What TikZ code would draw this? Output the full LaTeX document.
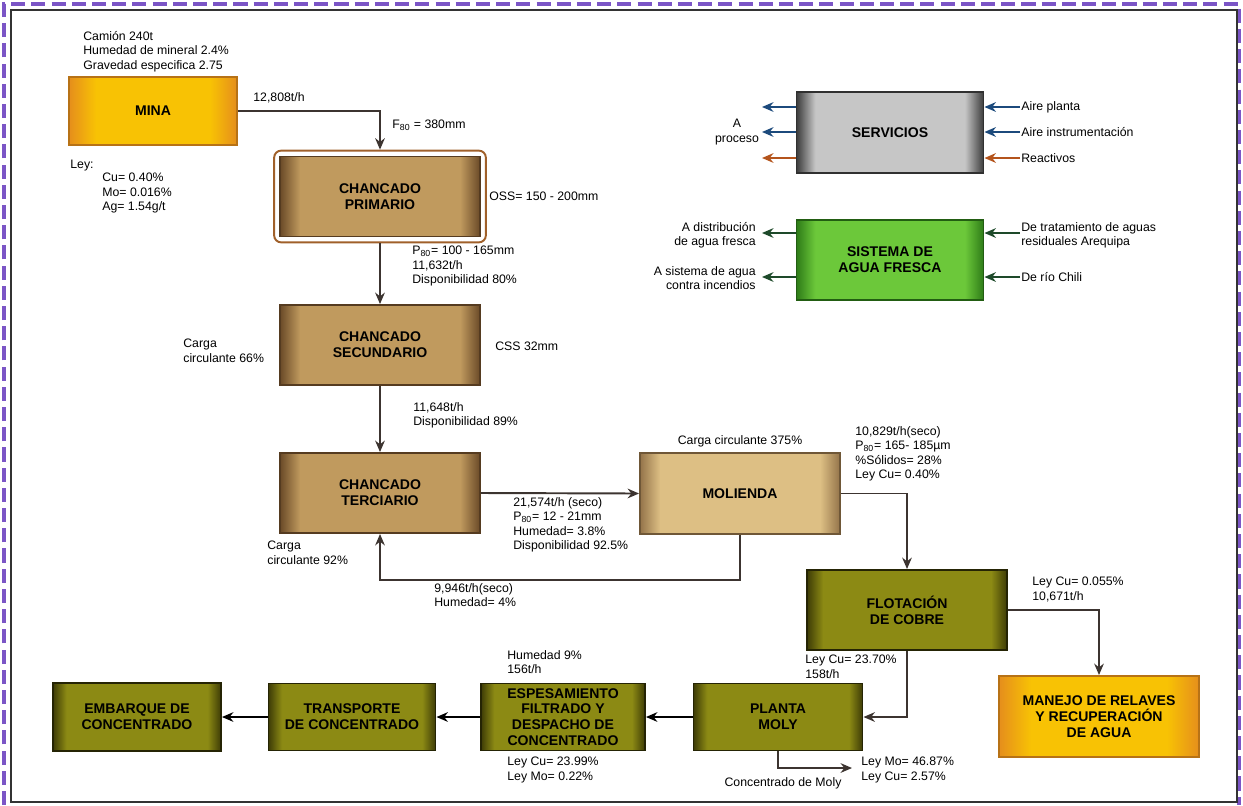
\documentclass[tikz,border=0pt]{standalone}
\usepackage{fontspec}
\setmainfont{Liberation Sans}
\usetikzlibrary{arrows.meta,fit}
\definecolor{mineO}{HTML}{E58E1C}
\definecolor{mineY}{HTML}{F8C204}
\definecolor{crushD}{HTML}{6A4A28}
\definecolor{crushL}{HTML}{C09A5E}
\definecolor{millD}{HTML}{94744A}
\definecolor{millL}{HTML}{DDBF84}
\definecolor{oliveD}{HTML}{3E3C06}
\definecolor{oliveL}{HTML}{8C8A14}
\definecolor{greyD}{HTML}{3C3C3C}
\definecolor{greyL}{HTML}{C6C6C6}
\definecolor{greenD}{HTML}{2E7C18}
\definecolor{greenL}{HTML}{6CC83A}
\definecolor{flowC}{HTML}{3C3430}
\definecolor{airC}{HTML}{1C4A7C}
\definecolor{reagC}{HTML}{B4541C}
\definecolor{waterC}{HTML}{1E4A2A}
\definecolor{frameC}{HTML}{A0602A}
\definecolor{borderC}{HTML}{7B55C6}
\pgfdeclarehorizontalshading{mineshade}{100bp}{color(0bp)=(mineO); color(25bp)=(mineO); color(33bp)=(mineY); color(67bp)=(mineY); color(75bp)=(mineO); color(100bp)=(mineO)}
\pgfdeclarehorizontalshading{crushshade}{100bp}{color(0bp)=(crushD); color(25bp)=(crushD); color(30bp)=(crushL); color(70bp)=(crushL); color(75bp)=(crushD); color(100bp)=(crushD)}
\pgfdeclarehorizontalshading{millshade}{100bp}{color(0bp)=(millD); color(25bp)=(millD); color(30bp)=(millL); color(70bp)=(millL); color(75bp)=(millD); color(100bp)=(millD)}
\pgfdeclarehorizontalshading{oliveshade}{100bp}{color(0bp)=(oliveD); color(25bp)=(oliveD); color(29bp)=(oliveL); color(71bp)=(oliveL); color(75bp)=(oliveD); color(100bp)=(oliveD)}
\pgfdeclarehorizontalshading{greyshade}{100bp}{color(0bp)=(greyD); color(25bp)=(greyD); color(30bp)=(greyL); color(70bp)=(greyL); color(75bp)=(greyD); color(100bp)=(greyD)}
\pgfdeclarehorizontalshading{greenshade}{100bp}{color(0bp)=(greenD); color(25bp)=(greenD); color(30bp)=(greenL); color(70bp)=(greenL); color(75bp)=(greenD); color(100bp)=(greenD)}
\begin{document}
\begin{tikzpicture}[
  x=0.02cm, y=-0.02cm,
  every node/.style={font=\fontsize{7}{8.2}\selectfont},
  unit/.style={rectangle, line width=1.1pt, minimum width=4cm, minimum height=1.6cm,
    align=center, inner sep=1pt, font=\fontsize{8}{9}\selectfont\bfseries},
  mine/.style={unit, draw=mineO!80!black, shading=mineshade},
  crush/.style={unit, draw=crushD!80!black, shading=crushshade},
  mill/.style={unit, draw=millD!75!black, shading=millshade},
  olive/.style={unit, draw=oliveD!60!black, shading=oliveshade},
  util/.style={unit, draw=greyD!80!black, shading=greyshade},
  water/.style={unit, draw=greenD!75!black, shading=greenshade},
  pframe/.style={draw=frameC, line width=1.1pt, rounded corners=4pt, inner sep=2.8pt},
  note/.style={anchor=north west, inner sep=0pt, align=left},
  noteR/.style={anchor=north east, inner sep=0pt, align=right},
  flow/.style={draw=flowC, line width=1.1pt, -{Stealth[length=6.5pt,width=5.5pt]}},
  chain/.style={draw=black, line width=1.1pt, -{Stealth[length=6.5pt,width=5.5pt]}},
  air/.style={draw=airC, line width=1.1pt, -{Stealth[length=6.5pt,width=5.5pt]}},
  reag/.style={draw=reagC, line width=1.1pt, -{Stealth[length=6.5pt,width=5.5pt]}},
  fresh/.style={draw=waterC, line width=1.1pt, -{Stealth[length=6.5pt,width=5.5pt]}}
]
\useasboundingbox (0,0) rectangle (1243,805);
\draw[borderC, line width=2.2pt, dash pattern=on 8pt off 3.5pt] (4,805) -- (4,4) -- (1239,4) -- (1239,805);
\draw[black!80, line width=0.8pt] (11,10) rectangle (1237,802);

% process units
\node[mine, minimum width=3.36cm, minimum height=1.36cm] (mina) at (153,111) {MINA};
\node[crush] (primario) at (380,196.5) {CHANCADO\\PRIMARIO};
\node[pframe, fit=(primario)] (primframe) {};
\node[crush] (secundario) at (380,345) {CHANCADO\\SECUNDARIO};
\node[crush] (terciario) at (380,493) {CHANCADO\\TERCIARIO};
\node[mill, minimum height=1.62cm] (molienda) at (740,493.5) {MOLIENDA};
\node[olive] (flotacion) at (907,610) {FLOTACIÓN\\DE COBRE};
\node[mine, minimum height=1.62cm] (relaves) at (1099,716.5) {MANEJO DE RELAVES\\Y RECUPERACIÓN\\DE AGUA};
\node[olive, minimum width=3.38cm, minimum height=1.34cm] (moly) at (778,717) {PLANTA\\MOLY};
\node[olive, minimum width=3.28cm, minimum height=1.34cm] (espesa) at (563,717) {ESPESAMIENTO\\FILTRADO Y\\DESPACHO DE\\CONCENTRADO};
\node[olive, minimum width=3.34cm, minimum height=1.34cm] (transporte) at (352,717) {TRANSPORTE\\DE CONCENTRADO};
\node[olive, minimum width=3.36cm, minimum height=1.36cm] (embarque) at (137,717) {EMBARQUE DE\\CONCENTRADO};
\node[util, minimum width=3.74cm, minimum height=1.62cm] (servicios) at (890,132.5) {SERVICIOS};
\node[water, minimum width=3.74cm] (agua) at (890,260) {SISTEMA DE\\AGUA FRESCA};

% main flow
\draw[flow] (mina.east) -| (primframe.north);
\draw[flow] (primframe.south) -- (secundario.north);
\draw[flow] (secundario.south) -- (terciario.north);
\draw[flow] (terciario.east) -- (molienda.west);
\draw[flow] (molienda.south) -- ++(0,45) -| (terciario.south);
\draw[flow] (molienda.east) -| (flotacion.north);
\draw[flow] (flotacion.east) -| (relaves.north);
\draw[flow] (flotacion.south) |- (moly.east);
\coordinate (molyout) at (852,768);
\draw[flow] (moly.south) |- (molyout);
\draw[chain] (moly.west) -- (espesa.east);
\draw[chain] (espesa.west) -- (transporte.east);
\draw[chain] (transporte.west) -- (embarque.east);

% utilities
\coordinate (sOut1) at (762,107);
\coordinate (sOut2) at (762,132);
\coordinate (sOut3) at (762,158);
\coordinate (sIn1) at (1020,107);
\coordinate (sIn2) at (1020,132);
\coordinate (sIn3) at (1020,158);
\draw[air] (servicios.west |- sOut1) -- (sOut1);
\draw[air] (servicios.west |- sOut2) -- (sOut2);
\draw[reag] (servicios.west |- sOut3) -- (sOut3);
\draw[air] (sIn1) -- (servicios.east |- sIn1);
\draw[air] (sIn2) -- (servicios.east |- sIn2);
\draw[reag] (sIn3) -- (servicios.east |- sIn3);
\coordinate (wOut1) at (762,233);
\coordinate (wOut2) at (762,277);
\coordinate (wIn1) at (1020,233);
\coordinate (wIn2) at (1020,277);
\draw[fresh] (agua.west |- wOut1) -- (wOut1);
\draw[fresh] (agua.west |- wOut2) -- (wOut2);
\draw[fresh] (wIn1) -- (agua.east |- wIn1);
\draw[fresh] (wIn2) -- (agua.east |- wIn2);

% stream data
\node[note] (tCamion) at (83,31) {Camión 240t\\Humedad de mineral 2.4\%\\Gravedad especifica 2.75};
\node[note] (tLey) at (70,160) {Ley:};
\node[note] (tGrade) at (102,173) {Cu= 0.40\%\\Mo= 0.016\%\\Ag= 1.54g/t};
\node[note] (tFeed) at (253,92) {12,808t/h};
\node[note] (tF80) at (392,120) {F\textsubscript{80} = 380mm};
\node[note] (tOSS) at (489,192) {OSS= 150 - 200mm};
\node[note] (tPrim) at (412,246) {P\textsubscript{80}= 100 - 165mm\\11,632t/h\\Disponibilidad 80\%};
\node[note] (tCarga66) at (183,339) {Carga\\circulante 66\%};
\node[anchor=west, inner sep=0pt] (tCSS) at (495,346) {CSS 32mm};
\node[note] (tSec) at (413,402) {11,648t/h\\Disponibilidad 89\%};
\node[note] (tCarga92) at (267,541) {Carga\\circulante 92\%};
\node[note] (tTer) at (513,497) {21,574t/h (seco)\\P\textsubscript{80}= 12 - 21mm\\Humedad= 3.8\%\\Disponibilidad 92.5\%};
\node[note] (tRecirc) at (434,583) {9,946t/h(seco)\\Humedad= 4\%};
\node[inner sep=0pt] (tCarga375) at (740,441) {Carga circulante 375\%};
\node[note] (tMol) at (855,426) {10,829t/h(seco)\\P\textsubscript{80}= 165- 185µm\\\%Sólidos= 28\%\\Ley Cu= 0.40\%};
\node[note] (tTail) at (1032,577) {Ley Cu= 0.055\%\\10,671t/h};
\node[note] (tConc) at (805,655) {Ley Cu= 23.70\%\\158t/h};
\node[note] (tHum) at (507,650) {Humedad 9\%\\156t/h};
\node[note] (tFinal) at (507,757) {Ley Cu= 23.99\%\\Ley Mo= 0.22\%};
\node[note] (tMoGrade) at (861,757) {Ley Mo= 46.87\%\\Ley Cu= 2.57\%};
\node[inner sep=0pt] (tMoConc) at (783,783) {Concentrado de Moly};

% utility labels
\node[align=center, inner sep=0pt] (tProceso) at (737,132) {A\\proceso};
\node[anchor=west, inner sep=0pt] (tAire1) at (1021,107) {Aire planta};
\node[anchor=west, inner sep=0pt] (tAire2) at (1021,132) {Aire instrumentación};
\node[anchor=west, inner sep=0pt] (tReact) at (1021,158) {Reactivos};
\node[noteR] (tDistrib) at (756,222) {A distribución\\de agua fresca};
\node[noteR] (tIncend) at (756,266) {A sistema de agua\\contra incendios};
\node[note] (tTrat) at (1021,222) {De tratamiento de aguas\\residuales Arequipa};
\node[anchor=west, inner sep=0pt] (tChili) at (1021,277) {De río Chili};
\end{tikzpicture}
\end{document}
